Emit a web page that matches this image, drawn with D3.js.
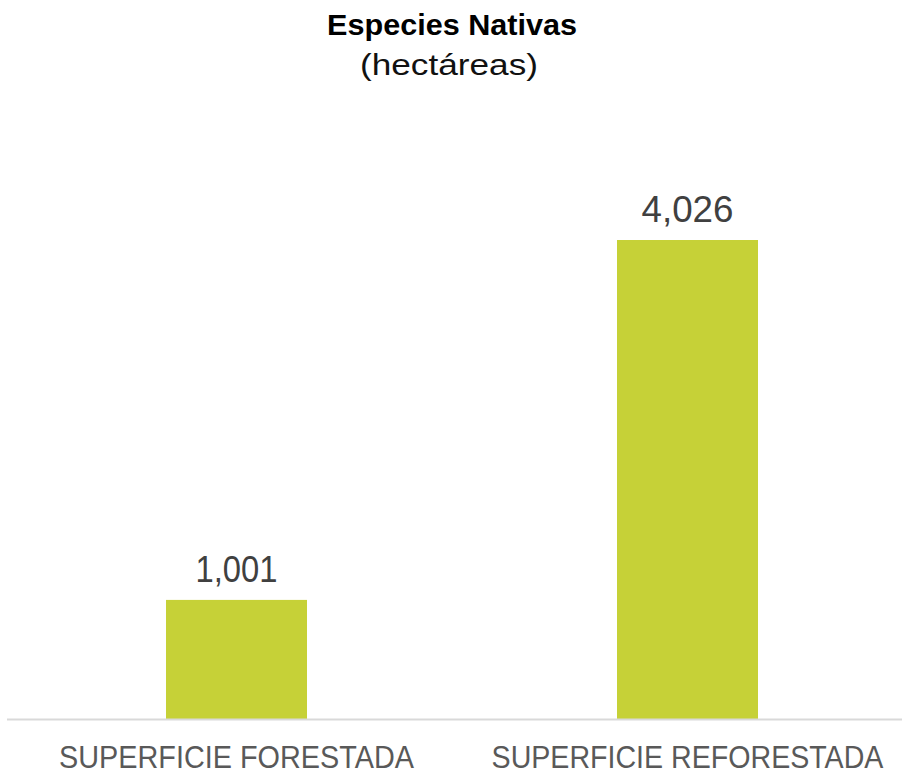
<!DOCTYPE html>
<html><head><meta charset="utf-8">
<script src="https://cdn.jsdelivr.net/npm/d3@7"></script>
<style>body{margin:0;background:#fff}svg{display:block}</style>
</head><body>
<script>
const categories = ["SUPERFICIE FORESTADA", "SUPERFICIE REFORESTADA"];
const values = [1001, 4026];
const valueLabels = ["1,001", "4,026"];
const title = "Especies Nativas";
const subtitle = "(hectáreas)";

const W = 902, H = 776;
const svg = d3.select("body").append("svg").attr("width", W).attr("height", H);
const font = "'Liberation Sans', Arial, sans-serif";

const x = d3.scaleBand().domain(categories).range([11, 913]).paddingInner(0.6874).paddingOuter(0.3437);
const y = d3.scaleLinear().domain([0, 4026]).range([719, 240]);

// fit text horizontally by scaling so its real box matches target width
function fitText(sel, target) {
  sel.each(function(d, i) {
    const t = d3.select(this);
    const w = this.getComputedTextLength();
    const tw = typeof target === "function" ? target(d, i) : target;
    const s = tw / w;
    const cx = +t.attr("x"), cy = +t.attr("y");
    t.attr("transform", `translate(${cx},${cy}) scale(${s},1) translate(${-cx},${-cy})`);
  });
}

svg.append("text").attr("x", 452).attr("y", 35).attr("text-anchor", "middle")
  .attr("font-family", font).attr("font-weight", "bold").attr("font-size", 29)
  .attr("fill", "#000").text(title).call(fitText, 250);
svg.append("text").attr("x", 449).attr("y", 75).attr("text-anchor", "middle")
  .attr("font-family", font).attr("font-size", 29)
  .attr("fill", "#111").text(subtitle).call(fitText, 178);

svg.selectAll("rect.bar").data(values).enter().append("rect").attr("class", "bar")
  .attr("x", (d, i) => x(categories[i])).attr("width", x.bandwidth())
  .attr("y", d => y(d)).attr("height", d => y(0) - y(d)).attr("fill", "#c6d137");

const vlW = [82, 92];
svg.selectAll("text.val").data(values).enter().append("text").attr("class", "val")
  .attr("x", (d, i) => x(categories[i]) + x.bandwidth() / 2).attr("y", d => y(d) - 18)
  .attr("text-anchor", "middle").attr("font-family", font).attr("font-size", 37)
  .attr("fill", "#404040").text((d, i) => valueLabels[i]).call(fitText, (d, i) => vlW[i]);

svg.append("line").attr("x1", 7).attr("x2", W).attr("y1", 719.5).attr("y2", 719.5)
  .attr("stroke", "#d9d9d9").attr("stroke-width", 2);

const cW = [355, 392];
svg.selectAll("text.cat").data(categories).enter().append("text").attr("class", "cat")
  .attr("x", d => x(d) + x.bandwidth() / 2).attr("y", 768)
  .attr("text-anchor", "middle").attr("font-family", font).attr("font-size", 31)
  .attr("fill", "#595959").text(d => d).call(fitText, (d, i) => cW[i]);
</script>
</body></html>
